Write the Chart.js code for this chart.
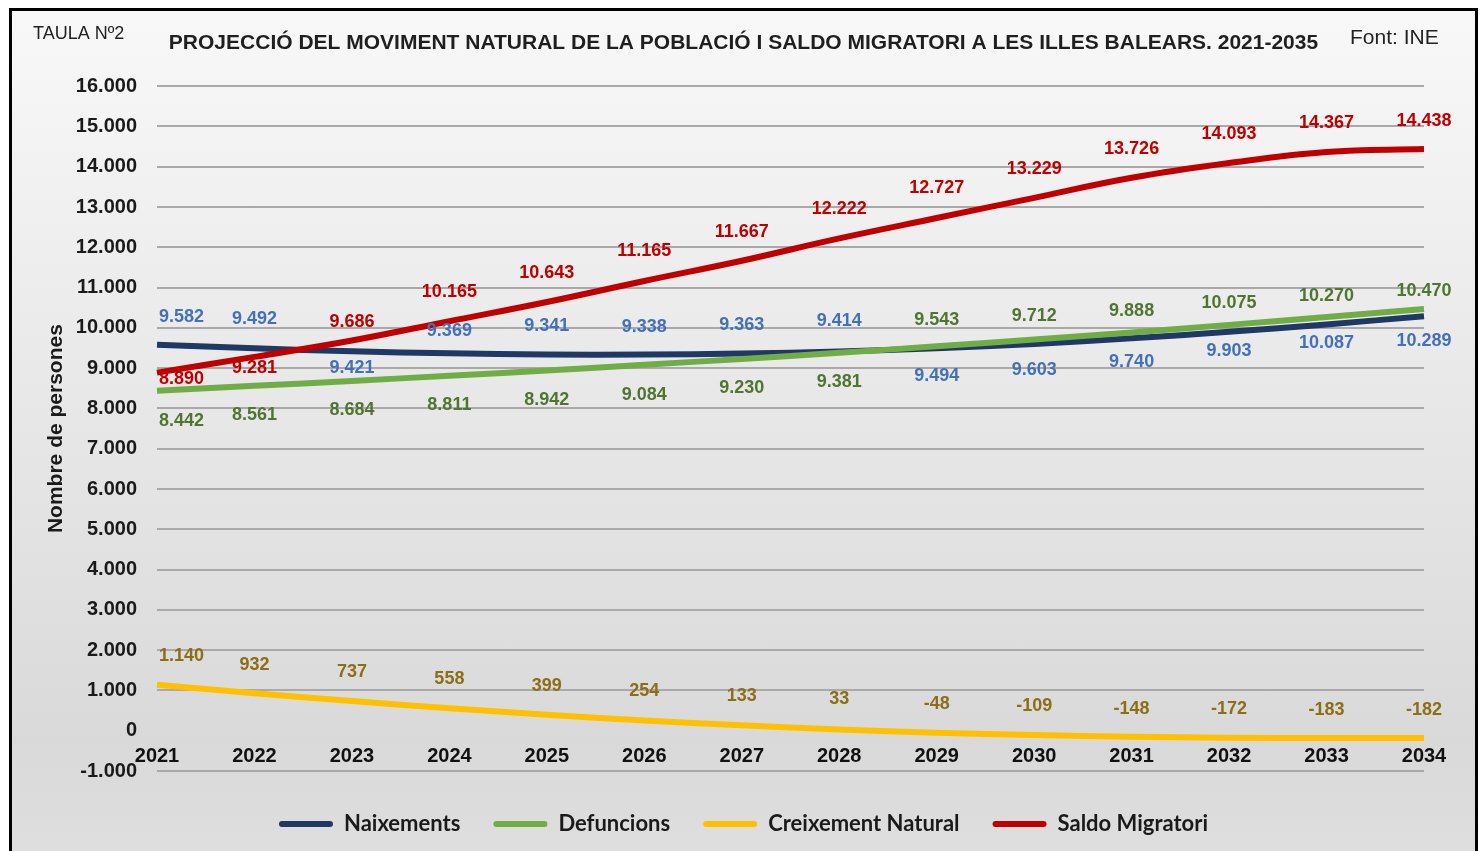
<!DOCTYPE html>
<html>
<head>
<meta charset="utf-8">
<script src="https://cdn.jsdelivr.net/npm/chart.js@4/dist/chart.umd.min.js"></script>
<style>
  html, body { margin: 0; padding: 0; background: #fff; }
  #frame {
    position: absolute; left: 9px; top: 8px; width: 1463px; height: 860px;
    border: 3px solid #000;
    background: linear-gradient(#f8f8f8 0%, #e6e6e6 50%, #d9d9d9 85%, #dfdfdf 100%);
  }
  #chart { position: absolute; left: 0; top: 0; }
</style>
</head>
<body>
<div id="frame"></div>
<canvas id="chart" width="1482" height="851"></canvas>
<script>
const years = ['2021', '2022', '2023', '2024', '2025', '2026', '2027', '2028', '2029', '2030', '2031', '2032', '2033', '2034'];
const naixements = [9582, 9492, 9421, 9369, 9341, 9338, 9363, 9414, 9494, 9603, 9740, 9903, 10087, 10289];
const defuncions = [8442, 8561, 8684, 8811, 8942, 9084, 9230, 9381, 9543, 9712, 9888, 10075, 10270, 10470];
const creixementNatural = [1140, 932, 737, 558, 399, 254, 133, 33, -48, -109, -148, -172, -183, -182];
const saldoMigratori = [8890, 9281, 9686, 10165, 10643, 11165, 11667, 12222, 12727, 13229, 13726, 14093, 14367, 14438];

// where each value label sits, px from its point (minus = above)
const naixShift = [-28, -29, 17, -22, -28, -28, -29, -30, 28, 26, 24, 19, 19, 25];
const defShift = [30, 29, 29, 29, 30, 30, 29, 29, -26, -23, -21, -22, -21, -18];
const creixShift = [-29, -28, -29, -29, -29, -29, -29, -30, -29, -29, -28, -29, -28, -28];
const saldoShift = [6, 11, -19, -29, -29, -30, -29, -29, -30, -29, -29, -29, -29, -28];

const FONT = "'Liberation Sans', Arial, sans-serif";

function fmt(v) {
  const s = Math.abs(v).toString().replace(/\B(?=(\d{3})+(?!\d))/g, '.');
  return (v < 0 ? '-' : '') + s;
}

const valueLabels = {
  id: 'valueLabels',
  afterDatasetsDraw(chart) {
    const ctx = chart.ctx;
    ctx.save();
    ctx.font = 'bold 18px ' + FONT;
    ctx.textBaseline = 'middle';
    chart.data.datasets.forEach((ds, di) => {
      const meta = chart.getDatasetMeta(di);
      meta.data.forEach((pt, i) => {
        ctx.fillStyle = ds.labelColor;
        ctx.textAlign = i === 0 ? 'left' : 'center';
        const x = i === 0 ? pt.x + 2 : pt.x;
        ctx.fillText(fmt(ds.data[i]), x, pt.y + ds.labelShift[i]);
      });
    });
    ctx.restore();
  }
};

const sideTexts = {
  id: 'sideTexts',
  afterDraw(chart) {
    const ctx = chart.ctx;
    ctx.save();
    ctx.fillStyle = '#222';
    ctx.textBaseline = 'middle';
    ctx.textAlign = 'left';
    ctx.font = '18px ' + FONT;
    ctx.fillText('TAULA Nº2', 33, 34);
    ctx.font = '21px ' + FONT;
    ctx.fillText('Font: INE', 1350, 38);
    ctx.restore();
  }
};

new Chart(document.getElementById('chart'), {
  type: 'line',
  data: {
    labels: years,
    datasets: [
      { label: 'Naixements', data: naixements, borderColor: '#1f3864', backgroundColor: '#1f3864', labelColor: '#4470bb', labelShift: naixShift, order: 4 },
      { label: 'Defuncions', data: defuncions, borderColor: '#70ad47', backgroundColor: '#70ad47', labelColor: '#4f7530', labelShift: defShift, order: 3 },
      { label: 'Creixement Natural', data: creixementNatural, borderColor: '#ffc000', backgroundColor: '#ffc000', labelColor: '#8c6e16', labelShift: creixShift, order: 2 },
      { label: 'Saldo Migratori', data: saldoMigratori, borderColor: '#c00000', backgroundColor: '#c00000', labelColor: '#c00000', labelShift: saldoShift, order: 1 }
    ]
  },
  options: {
    responsive: false,
    animation: false,
    elements: {
      line: { borderWidth: 6, tension: 0.4, fill: false, borderCapStyle: 'butt' },
      point: { radius: 0, hoverRadius: 0 }
    },
    layout: { padding: { left: 63, right: 58, top: 0, bottom: 6 } },
    scales: {
      x: {
        position: { y: 0 },
        grid: { display: false, drawTicks: false },
        border: { display: false },
        ticks: {
          font: { family: FONT, size: 20, weight: 'bold' },
          color: '#111',
          padding: 14,
          maxRotation: 0,
          autoSkip: false
        },
        afterFit(scale) { scale.height = 0; }
      },
      y: {
        min: -1000,
        max: 16000,
        grid: {
          color: (c) => (c.tick && c.tick.value === 0 ? 'rgba(0,0,0,0)' : '#a9a9a9'),
          lineWidth: 2,
          drawTicks: false
        },
        border: { display: false },
        ticks: {
          stepSize: 1000,
          padding: 20,
          font: { family: FONT, size: 20, weight: 'bold' },
          color: '#1a1a1a',
          callback: (v) => fmt(v)
        },
        title: {
          display: true,
          text: 'Nombre de persones',
          font: { family: FONT, size: 21, weight: 'bold' },
          color: '#1a1a1a',
          padding: { top: -19, bottom: 0 }
        },
        afterFit(scale) { scale.width = 94; }
      }
    },
    plugins: {
      title: {
        display: true,
        text: 'PROJECCIÓ DEL MOVIMENT NATURAL DE LA POBLACIÓ I SALDO MIGRATORI A LES ILLES BALEARS. 2021-2035',
        font: { family: FONT, size: 21, weight: 'bold' },
        color: '#1f1f1f',
        padding: { top: 31, bottom: 30 }
      },
      legend: {
        position: 'bottom',
        // empty title only pushes the row down a little
        title: { display: true, text: ' ', font: { size: 5 }, padding: { top: 0, bottom: 3 } },
        labels: {
          boxWidth: 54,
          boxHeight: 6,
          padding: 33,
          color: '#1a1a1a',
          font: { family: 'Lato', size: 22, weight: 'bold' },
          useBorderRadius: true,
          borderRadius: 3,
          sort: (a, b) => a.datasetIndex - b.datasetIndex,
          generateLabels(chart) {
            return Chart.defaults.plugins.legend.labels.generateLabels(chart).map((item) => {
              item.lineWidth = 0;
              item.fillStyle = chart.data.datasets[item.datasetIndex].borderColor;
              return item;
            });
          }
        }
      },
      tooltip: { enabled: false }
    }
  },
  plugins: [valueLabels, sideTexts]
});
</script>
</body>
</html>
